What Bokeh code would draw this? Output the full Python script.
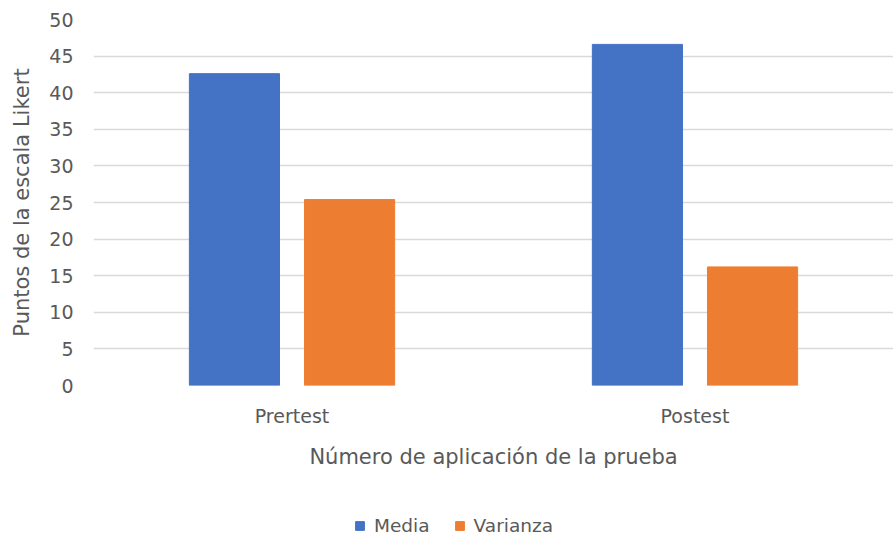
from bokeh.plotting import figure
from bokeh.layouts import column
from bokeh.models import FactorRange, Range1d, Legend, LegendItem, SingleIntervalTicker, ColumnDataSource
from bokeh.transform import dodge
from bokeh.embed import file_html
from bokeh.resources import INLINE

categories = ["Prertest", "Postest"]
media = [42.6, 46.6]
varianza = [25.4, 16.2]
series_names = ["Media", "Varianza"]
colors = ["#4472C4", "#ED7D31"]

source = ColumnDataSource(data=dict(cat=categories, media=media, varianza=varianza))

FONT = "DejaVu Sans"
GRAY = "#595959"

p = figure(x_range=FactorRange(factors=categories, factor_padding=0.015), y_range=Range1d(0, 50),
           width=893, height=500, output_backend="svg",
           toolbar_location=None, min_border_left=93, min_border_right=0,
           min_border_top=19, min_border_bottom=115)

r1 = p.vbar(x=dodge("cat", -0.145, range=p.x_range), top="media", width=0.227,
            source=source, fill_color=colors[0], line_color=colors[0])
r2 = p.vbar(x=dodge("cat", 0.145, range=p.x_range), top="varianza", width=0.227,
            source=source, fill_color=colors[1], line_color=colors[1])

p.outline_line_color = None
p.xgrid.grid_line_color = None
p.ygrid.grid_line_color = "#D9D9D9"
p.ygrid.grid_line_width = 1.5
p.yaxis.ticker = SingleIntervalTicker(interval=5)

for ax in (p.xaxis[0], p.yaxis[0]):
    ax.axis_line_color = None
    ax.major_tick_line_color = None
    ax.minor_tick_line_color = None
    ax.major_tick_out = 0
    ax.major_tick_in = 0
    ax.minor_tick_out = 0
    ax.major_label_text_color = GRAY
    ax.major_label_text_font = FONT
    ax.major_label_text_font_size = "19px"
    ax.axis_label_text_color = GRAY
    ax.axis_label_text_font = FONT
    ax.axis_label_text_font_style = "normal"

p.yaxis.axis_label = "Puntos de la escala Likert"
p.yaxis.axis_label_text_font_size = "21px"
p.yaxis.major_label_standoff = 20
p.yaxis.axis_label_standoff = 12
p.xaxis.axis_label = "Número de aplicación de la prueba"
p.xaxis.axis_label_text_font_size = "21px"
p.xaxis.major_label_standoff = 19
p.xaxis.axis_label_standoff = 15

# Legend strip below the chart (hidden copies of the series supply the swatches)
q = figure(width=893, height=37, output_backend="svg", toolbar_location=None,
           x_axis_type=None, y_axis_type=None, min_border=0,
           x_range=FactorRange(factors=categories), y_range=Range1d(0, 50))
q.outline_line_color = None
q.xgrid.grid_line_color = None
q.ygrid.grid_line_color = None
l1 = q.vbar(x="cat", top="media", width=0.2, source=source,
            fill_color=colors[0], line_color=colors[0], visible=False)
l2 = q.vbar(x="cat", top="varianza", width=0.2, source=source,
            fill_color=colors[1], line_color=colors[1], visible=False)

legend = Legend(items=[LegendItem(label=series_names[0], renderers=[l1]),
                       LegendItem(label=series_names[1], renderers=[l2])],
                orientation="horizontal", location=(261, 1),
                label_text_font=FONT, label_text_font_size="18.5px",
                label_text_color=GRAY, glyph_width=11, glyph_height=11,
                label_height=20, spacing=24, border_line_color=None,
                background_fill_alpha=0, margin=0, padding=0,
                label_standoff=9)
q.add_layout(legend, "center")

layout = column(p, q, spacing=0)
open("out.html", "w").write(file_html(layout, INLINE))
